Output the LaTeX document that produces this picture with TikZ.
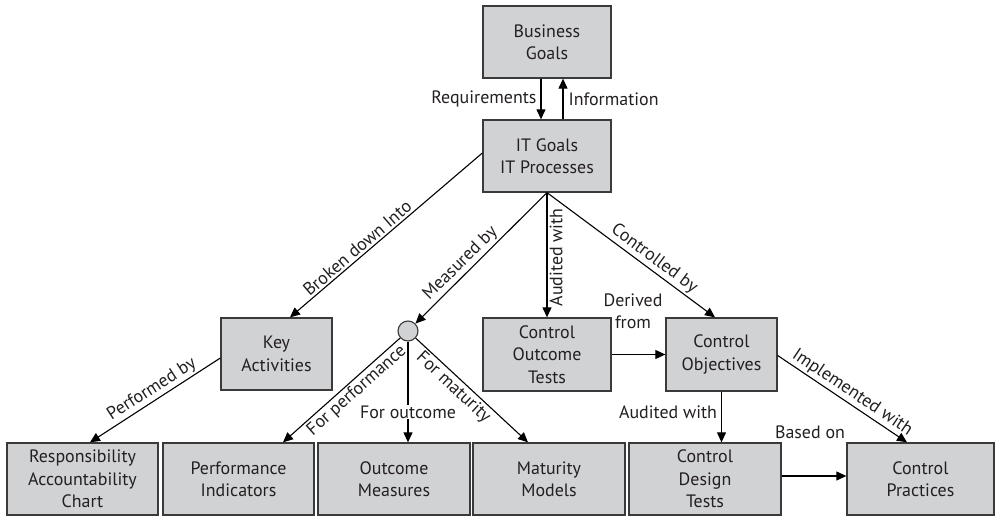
\documentclass[tikz,border=0pt]{standalone}
\usepackage{fontspec}
\setmainfont{PT Sans}
\usetikzlibrary{arrows.meta}
\definecolor{boxfill}{HTML}{D1D2D4}
\definecolor{boxdraw}{HTML}{3A3A3A}
\definecolor{txt}{HTML}{231F20}
\begin{document}
\begin{tikzpicture}[x=1bp,y=-1bp,
  box/.style={draw=boxdraw,fill=boxfill,line width=1.3bp,minimum width=#1,minimum height=72bp,align=center,inner sep=0pt,text=txt,font=\fontsize{18}{22.5}\selectfont},
  box/.default=128bp,
  arr/.style={line width=1.1bp,-{Triangle[length=10bp,width=9bp]}},
  lbl/.style={font=\fontsize{18}{22}\selectfont,inner sep=2bp,text=txt}]
\useasboundingbox (0,0) rectangle (997,517);
\node[box] (bg) at (547,42) {Business\\Goals};
\node[box] (it) at (547,156) {IT Goals\\IT Processes};
\node[box=111bp] (key) at (276.5,354) {Key\\Activities};
\node[circle,draw=boxdraw,fill=boxfill,line width=1.1bp,minimum size=20bp,inner sep=0pt] (c) at (408,331) {};
\node[box,minimum height=73bp] (cot) at (547,354.5) {Control\\Outcome\\Tests};
\node[box=111bp,minimum height=73bp] (co) at (721.5,354.5) {Control\\Objectives};
\node[box=151bp] (resp) at (82.5,479) {Responsibility\\Accountability\\Chart};
\node[box=151bp] (pi) at (238.5,479) {Performance\\Indicators};
\node[box=152bp] (om) at (394,479) {Outcome\\Measures};
\node[box=152bp] (mm) at (549,479) {Maturity\\Models};
\node[box=152bp] (cdt) at (705,479) {Control\\Design\\Tests};
\node[box=147bp] (cp) at (920.5,479) {Control\\Practices};

\draw[arr] ([xshift=-6bp]bg.south) -- ([xshift=-6bp]it.north)
  node[lbl,midway,anchor=east,xshift=-2bp] {Requirements};
\draw[arr] ([xshift=16bp]it.north) -- ([xshift=16bp]bg.south)
  node[lbl,midway,anchor=west,xshift=3bp] {Information};
\draw[arr] ([yshift=3bp]it.west) -- ([xshift=13.5bp]key.north)
  node[lbl,pos=0.62,sloped,above] {Broken down Into};
\draw[arr] (it.south) -- (c)
  node[lbl,pos=0.6,sloped,above] {Measured by};
\draw[arr] (it.south) -- (cot.north)
  node[lbl,pos=0.52,rotate=90,anchor=north] {Audited with};
\draw[arr] (it.south) -- ([xshift=-6.5bp]co.north)
  node[lbl,pos=0.6,sloped,above] {Controlled by};
\draw[arr] (cot.east) -- (co.west);
\node[lbl,align=center] (df) at (633,311) {Derived\\from};
\draw[arr] ([yshift=-4bp]key.west) -- ([xshift=7.5bp]resp.north)
  node[lbl,pos=0.48,sloped,above] {Performed by};
\draw[arr] (c) -- ([xshift=44.5bp]pi.north)
  node[lbl,pos=0.43,sloped,below] {For performance};
\draw[arr] (c.south) -- (c.south |- om.north)
  node[lbl,pos=0.7,fill=white,inner sep=1bp] {For outcome};
\draw[arr] (c) -- ([xshift=-21bp]mm.north)
  node[lbl,pos=0.4,sloped,below] {For maturity};
\draw[arr] (co.south) -- (co.south |- cdt.north)
  node[lbl,pos=0.4,anchor=east,xshift=-2bp] {Audited with};
\draw[arr] ([yshift=3bp]cdt.east) -- ([yshift=3bp]cdt.east -| cp.west);
\node[lbl] (bo) at (810,432) {Based on};
\draw[arr] ([yshift=-1bp]co.east) -- ([xshift=-13.5bp]cp.north)
  node[lbl,pos=0.53,sloped,above] {Implemented with};
\end{tikzpicture}
\end{document}
